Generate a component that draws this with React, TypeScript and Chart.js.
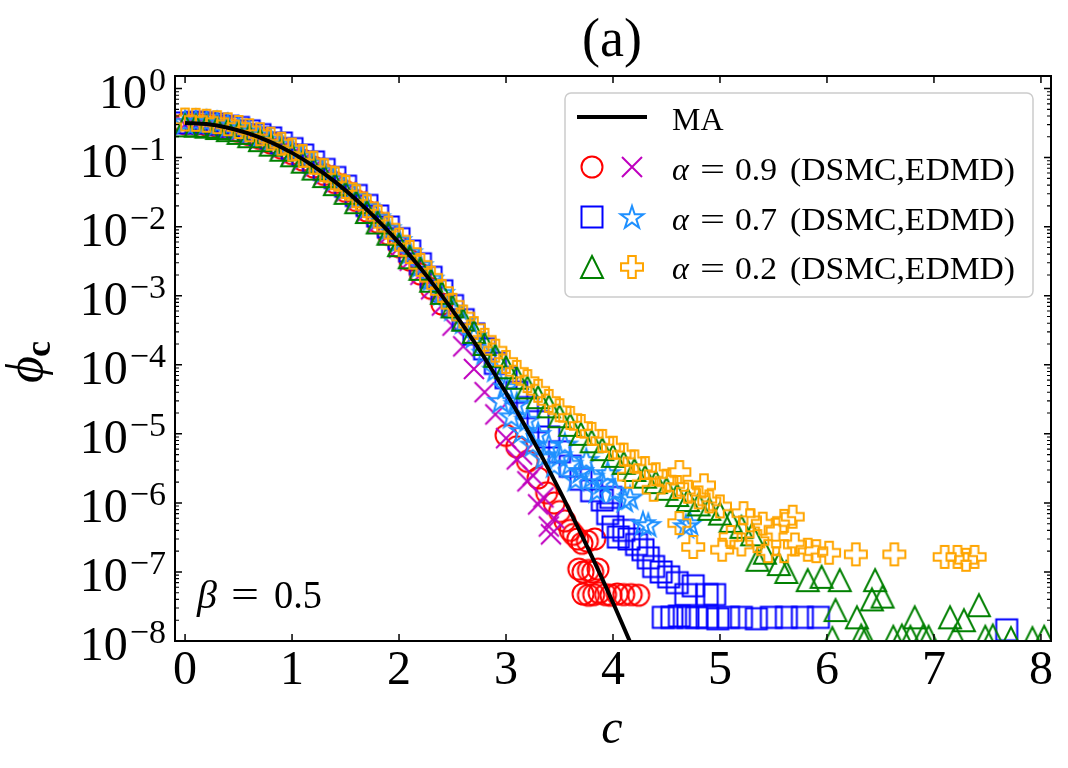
import { useEffect, useRef } from "react";
import { Chart, registerables } from "chart.js";
Chart.register(...registerables);

// ---------- data ----------
const maC = [0, 0.2, 0.4, 0.6, 0.8, 1.0, 1.2, 1.4, 1.6, 1.8, 2.0, 2.2, 2.4, 2.6, 2.8, 3.0, 3.2, 3.4, 3.6, 3.8, 4.0, 4.2];
const maPhi = [0.3183, 0.3058, 0.2712, 0.2221, 0.1678, 0.1171, 0.07542, 0.04484, 0.02461, 0.01247, 0.00583, 0.002517, 0.001003, 3.69e-4, 1.253e-4, 3.928e-5, 1.137e-5, 3.037e-6, 7.487e-7, 1.705e-7, 3.582e-8, 6.94e-9];

// alpha = 0.9 DSMC (red circles)
const redC = [0, 0.1, 0.2, 0.3, 0.4, 0.5, 0.6, 0.7, 0.8, 0.9, 1.0, 1.1, 1.2, 1.3, 1.4, 1.5, 1.6, 1.7, 1.8, 1.9, 2.0, 2.1, 2.2, 2.3, 2.4, 3.0, 3.1, 3.2, 3.3,
  3.38, 3.45, 3.5, 3.55, 3.6, 3.63, 3.67, 3.71, 3.76, 3.83,
  3.68, 3.72, 3.77, 3.81, 3.86,
  3.72, 3.77, 3.82, 3.87, 3.93, 3.98, 4.04, 4.1, 4.17, 4.24];
const redPhi = [0.309, 0.306, 0.297, 0.282, 0.263, 0.24, 0.215, 0.189, 0.163, 0.137, 0.114, 0.0921, 0.0732, 0.057, 0.0435, 0.0325, 0.0239, 0.0168, 0.0116, 0.00775, 0.00513, 0.00329, 0.00206, 0.00128, 7.6e-4, 9.5e-6, 6.5e-6, 4.0e-6, 2.3e-6,
  1.4e-6, 1.0e-6, 7.5e-7, 5.5e-7, 4.0e-7, 3.5e-7, 3.0e-7, 2.6e-7, 2.8e-7, 3.0e-7,
  1.1e-7, 1.0e-7, 1.05e-7, 1.0e-7, 1.1e-7,
  4.8e-8, 4.6e-8, 4.7e-8, 5.0e-8, 4.7e-8, 4.6e-8, 4.8e-8, 4.7e-8, 4.7e-8, 4.6e-8];

// alpha = 0.9 EDMD (magenta x)
const magC = [0, 0.1, 0.2, 0.3, 0.4, 0.5, 0.6, 0.7, 0.8, 0.9, 1.0, 1.1, 1.2, 1.3, 1.4, 1.5, 1.6, 1.7, 1.8, 1.9, 2.0, 2.1, 2.2, 2.3, 2.4, 2.5, 2.6, 2.7, 2.8, 2.9, 3.0, 3.1, 3.2, 3.3, 3.4,
  3.15, 3.25, 3.35, 3.42, 3.45];
const magPhi = [0.302, 0.299, 0.291, 0.276, 0.258, 0.236, 0.211, 0.185, 0.159, 0.135, 0.111, 0.0902, 0.0716, 0.0558, 0.0426, 0.0319, 0.0234, 0.01645, 0.01122, 0.00758, 0.00496, 0.00321, 0.00201, 0.00124, 7.22e-4, 3.69e-4, 1.85e-4, 8.69e-5, 4.01e-5, 1.91e-5, 8.64e-6, 4.26e-6, 2.05e-6, 9.5e-7, 4.56e-7,
  5.0e-6, 2.5e-6, 1.2e-6, 3.5e-7, 6.0e-7];

// alpha = 0.7 DSMC (blue squares)
const blueC = [0, 0.1, 0.2, 0.3, 0.4, 0.5, 0.6, 0.7, 0.8, 0.9, 1.0, 1.1, 1.2, 1.3, 1.4, 1.5, 1.6, 1.7, 1.8, 1.9, 2.0, 2.1, 2.2, 2.3, 2.4, 2.5, 2.6, 2.7, 2.8, 2.9, 3.0, 3.1, 3.2, 3.3, 3.4, 3.5, 3.6, 3.7, 3.8, 3.9,
  3.95, 3.98, 4.0, 4.05, 4.1, 4.15, 4.22, 4.28, 4.33, 4.38, 4.45, 4.52, 4.6, 4.68, 4.75, 4.88, 4.95,
  4.47, 4.55, 4.62, 4.7, 4.78, 4.88, 4.98, 5.08, 5.2, 5.34, 5.48, 5.62, 5.77, 5.92,
  7.68];
const bluePhi = [0.318, 0.325, 0.321, 0.305, 0.285, 0.273, 0.244, 0.215, 0.193, 0.163, 0.135, 0.109, 0.0867, 0.0675, 0.0516, 0.0386, 0.0283, 0.0203, 0.0143, 0.0099, 0.0067, 0.00445, 0.0029, 0.00185, 0.00118, 7.2e-4, 4.5e-4, 2.8e-4, 1.7e-4, 1.05e-4, 6.5e-5, 4.0e-5, 2.4e-5, 1.5e-5, 9.0e-6, 5.5e-6, 3.4e-6, 2.2e-6, 1.5e-6, 1.1e-6,
  7.0e-7, 1.2e-6, 4.5e-7, 3.2e-7, 4.0e-7, 3.0e-7, 2.5e-7, 2.1e-7, 1.6e-7, 1.2e-7, 1.0e-7, 8.5e-8, 7.0e-8, 4.7e-8, 6.3e-8, 4.7e-8, 4.7e-8,
  2.2e-8, 2.2e-8, 2.3e-8, 2.2e-8, 2.2e-8, 2.2e-8, 2.1e-8, 2.2e-8, 2.2e-8, 2.1e-8, 2.2e-8, 2.2e-8, 2.2e-8, 2.2e-8,
  1.45e-8];

// alpha = 0.7 EDMD (dodgerblue stars)
const starC = [0, 0.1, 0.2, 0.3, 0.4, 0.5, 0.6, 0.7, 0.8, 0.9, 1.0, 1.1, 1.2, 1.3, 1.4, 1.5, 1.6, 1.7, 1.8, 1.9, 2.0, 2.1, 2.2, 2.3, 2.4, 2.5, 2.6, 2.7, 2.8, 2.9, 3.0, 3.1, 3.2, 3.3, 3.4, 3.5, 3.6, 3.7, 3.8, 3.9,
  2.95, 3.05, 3.15, 3.25, 3.35,
  3.45, 3.55, 3.65, 3.75, 3.85, 3.95, 4.02, 4.11, 4.16, 4.28, 4.33, 4.68, 4.72];
const starPhi = [0.33, 0.334, 0.33, 0.314, 0.293, 0.27, 0.242, 0.212, 0.183, 0.155, 0.129, 0.104, 0.083, 0.0646, 0.0493, 0.0369, 0.0271, 0.0195, 0.0137, 0.0095, 0.0064, 0.00426, 0.00277, 0.00177, 0.0011, 6.5e-4, 4.2e-4, 2.6e-4, 1.5e-4, 8.5e-5, 4.8e-5, 2.7e-5, 1.6e-5, 1.0e-5, 6.8e-6, 4.9e-6, 3.7e-6, 2.9e-6, 2.4e-6, 2.0e-6,
  3.0e-5, 1.8e-5, 1.1e-5, 7.0e-6, 4.6e-6,
  3.5e-6, 7.0e-6, 2.2e-6, 4.2e-6, 1.5e-6, 2.7e-6, 1.5e-6, 1.1e-6, 1.2e-6, 5.1e-7, 4.8e-7, 4.6e-7, 5.1e-7];

// alpha = 0.2 DSMC (green triangles)
const greenC = [0, 0.1, 0.2, 0.3, 0.4, 0.5, 0.6, 0.7, 0.8, 0.9, 1.0, 1.1, 1.2, 1.3, 1.4, 1.5, 1.6, 1.7, 1.8, 1.9, 2.0, 2.1, 2.2, 2.3, 2.4, 2.5, 2.6, 2.7, 2.8, 2.9, 3.0, 3.1, 3.2, 3.3, 3.4, 3.5, 3.6, 3.7, 3.8, 3.9, 4.0, 4.1, 4.2, 4.3, 4.4, 4.5, 4.6, 4.7, 4.8, 4.9, 5.0,
  5.1, 5.2, 5.3, 5.35, 5.42, 5.55, 5.62, 5.82, 5.95, 6.08, 6.12, 6.28, 6.32, 6.42, 6.45, 6.52, 6.62, 6.7, 6.78, 6.82, 6.9, 6.95, 7.15, 7.2, 7.28, 7.42, 7.48, 7.55, 7.72, 7.92, 8.03, 6.05, 6.36];
const greenPhi = [0.293, 0.29, 0.281, 0.268, 0.25, 0.228, 0.204, 0.179, 0.154, 0.13, 0.108, 0.0873, 0.0694, 0.054, 0.0413, 0.0309, 0.0226, 0.0163, 0.0115, 0.0079, 0.0054, 0.0036, 0.00245, 0.00165, 0.0011, 7.0e-4, 4.5e-4, 3.0e-4, 2.0e-4, 1.35e-4, 9.2e-5, 6.5e-5, 4.7e-5, 3.4e-5, 2.5e-5, 1.8e-5, 1.35e-5, 1.0e-5, 7.8e-6, 6.0e-6, 4.8e-6, 3.8e-6, 3.0e-6, 2.4e-6, 2.0e-6, 1.6e-6, 1.3e-6, 1.1e-6, 9.5e-7, 8.2e-7, 7.0e-7,
  5.5e-7, 4.5e-7, 3.5e-7, 1.5e-7, 1.9e-7, 1.3e-7, 1.0e-7, 7.6e-8, 8.5e-8, 2.8e-8, 7.6e-8, 2.2e-8, 1.2e-8, 4.0e-8, 7.6e-8, 4.4e-8, 1.15e-8, 1.2e-8, 1.15e-8, 2.2e-8, 1.2e-8, 1.15e-8, 2.2e-8, 1.15e-8, 2.0e-8, 3.3e-8, 1.15e-8, 1.2e-8, 1.1e-8, 1.1e-8, 1.15e-8, 1.1e-8, 1.1e-8];

// alpha = 0.2 EDMD (orange plus)
const orangeC = [0, 0.1, 0.2, 0.3, 0.4, 0.5, 0.6, 0.7, 0.8, 0.9, 1.0, 1.1, 1.2, 1.3, 1.4, 1.5, 1.6, 1.7, 1.8, 1.9, 2.0, 2.1, 2.2, 2.3, 2.4, 2.5, 2.6, 2.7, 2.8, 2.9, 3.0, 3.1, 3.2, 3.3, 3.4, 3.5, 3.6, 3.7, 3.8, 3.9, 4.0, 4.1, 4.2, 4.3, 4.4, 4.5, 4.6, 4.7, 4.8, 4.9, 5.0,
  4.15, 4.38, 4.62, 4.85, 4.62, 4.75, 5.02, 5.1, 5.2, 5.22, 5.28, 5.35, 5.45, 5.52, 5.6, 5.68, 5.7, 5.82, 5.9, 6.02, 6.27, 6.63, 7.1, 7.22, 7.3, 7.38, 5.4, 5.6];
const orangePhi = [0.356, 0.353, 0.342, 0.326, 0.304, 0.278, 0.249, 0.218, 0.188, 0.159, 0.131, 0.106, 0.0845, 0.0658, 0.0502, 0.0376, 0.0276, 0.0198, 0.014, 0.0097, 0.0065, 0.0043, 0.0028, 0.00182, 0.00117, 7.4e-4, 5.0e-4, 3.4e-4, 2.3e-4, 1.6e-4, 1.1e-4, 7.9e-5, 5.8e-5, 4.2e-5, 3.0e-5, 2.2e-5, 1.7e-5, 1.3e-5, 1.0e-5, 7.9e-6, 6.3e-6, 5.0e-6, 4.0e-6, 3.2e-6, 2.6e-6, 2.1e-6, 1.7e-6, 1.45e-6, 1.2e-6, 1.05e-6, 8.9e-7,
  2.4e-6, 1.55e-6, 2.8e-6, 1.8e-6, 5.1e-7, 2.3e-7, 2.1e-7, 3.2e-7, 2.5e-7, 7.1e-7, 5.6e-7, 2.8e-7, 2.0e-7, 4.1e-7, 2.0e-7, 6.3e-7, 2.5e-7, 2.1e-7, 2.0e-7, 1.9e-7, 1.8e-7, 1.8e-7, 1.65e-7, 1.65e-7, 1.5e-7, 1.65e-7, 5.0e-7, 5.5e-7];

const xTickValues = [0, 1, 2, 3, 4, 5, 6, 7, 8];
const yTickExponents = [0, -1, -2, -3, -4, -5, -6, -7, -8];
const legendAlphas = ["0.9", "0.7", "0.2"];

// ---------- drawing helpers ----------
const SERIF = '"Liberation Serif", "DejaVu Serif", serif';

function pts(cs: number[], ps: number[]) {
  const n = Math.min(cs.length, ps.length);
  const out: { x: number; y: number }[] = [];
  for (let i = 0; i < n; i++) out.push({ x: cs[i], y: ps[i] });
  return out;
}

function makeMarker(kind: string, color: string): HTMLCanvasElement {
  const s = 30;
  const cv = document.createElement("canvas");
  cv.width = s;
  cv.height = s;
  const g = cv.getContext("2d")!;
  g.strokeStyle = color;
  g.lineWidth = 2;
  g.lineJoin = "miter";
  const m = s / 2;
  g.beginPath();
  if (kind === "circle") {
    g.arc(m, m, 10.5, 0, Math.PI * 2);
  } else if (kind === "x") {
    g.moveTo(m - 10, m - 10);
    g.lineTo(m + 10, m + 10);
    g.moveTo(m + 10, m - 10);
    g.lineTo(m - 10, m + 10);
  } else if (kind === "square") {
    g.rect(m - 10.5, m - 10.5, 21, 21);
  } else if (kind === "triangle") {
    g.moveTo(m, m - 11);
    g.lineTo(m + 11, m + 11);
    g.lineTo(m - 11, m + 11);
    g.closePath();
  } else if (kind === "star") {
    for (let i = 0; i < 10; i++) {
      const r = i % 2 === 0 ? 12 : 4.6;
      const a = -Math.PI / 2 + (i * Math.PI) / 5;
      const px = m + r * Math.cos(a);
      const py = m + 1 + r * Math.sin(a);
      if (i === 0) g.moveTo(px, py);
      else g.lineTo(px, py);
    }
    g.closePath();
  } else if (kind === "plus") {
    const a = 3.8;
    const e = 11;
    const p = [[-a, -e], [a, -e], [a, -a], [e, -a], [e, a], [a, a], [a, e], [-a, e], [-a, a], [-e, a], [-e, -a], [-a, -a]];
    p.forEach((q, i) => (i === 0 ? g.moveTo(m + q[0], m + q[1]) : g.lineTo(m + q[0], m + q[1])));
    g.closePath();
  }
  g.stroke();
  return cv;
}

function text(ctx: CanvasRenderingContext2D, t: string, font: string, x: number, y: number, align: "left" | "center" | "right" = "left", targetW?: number) {
  ctx.save();
  ctx.font = font;
  ctx.textAlign = "left";
  ctx.textBaseline = "alphabetic";
  const w = ctx.measureText(t).width;
  const sx = targetW ? targetW / w : 1;
  const W = w * sx;
  const x0 = align === "center" ? x - W / 2 : align === "right" ? x - W : x;
  ctx.translate(x0, y);
  ctx.scale(sx, 1);
  ctx.fillStyle = "#000";
  ctx.fillText(t, 0, 0);
  ctx.restore();
  return W;
}

export default function App() {
  const ref = useRef<HTMLCanvasElement | null>(null);

  useEffect(() => {
    const canvas = ref.current;
    if (!canvas) return;
    const mRed = makeMarker("circle", "#ff0000");
    const mMag = makeMarker("x", "#bf00bf");
    const mBlue = makeMarker("square", "#0000ff");
    const mStar = makeMarker("star", "#1e90ff");
    const mGreen = makeMarker("triangle", "#008000");
    const mOrange = makeMarker("plus", "#ffa500");

    const decor = {
      id: "decor",
      afterDraw(chart: any) {
        const ctx: CanvasRenderingContext2D = chart.ctx;
        const { left, right, top, bottom } = chart.chartArea;
        const xs = chart.scales.x;
        const ys = chart.scales.y;
        ctx.save();
        ctx.strokeStyle = "#000";
        ctx.lineWidth = 1.5;
        ctx.beginPath();
        xTickValues.forEach((v) => {
          const px = xs.getPixelForValue(v);
          ctx.moveTo(px, bottom);
          ctx.lineTo(px, bottom - 7);
          ctx.moveTo(px, top);
          ctx.lineTo(px, top + 7);
        });
        yTickExponents.forEach((e) => {
          const py = ys.getPixelForValue(Math.pow(10, e));
          ctx.moveTo(left, py);
          ctx.lineTo(left + 7, py);
          ctx.moveTo(right, py);
          ctx.lineTo(right - 7, py);
        });
        ctx.stroke();
        ctx.lineWidth = 1.1;
        ctx.beginPath();
        for (let d = -8; d <= 0; d++) {
          for (let k = 2; k <= 9; k++) {
            const v = k * Math.pow(10, d);
            if (v > ys.max) continue;
            const py = ys.getPixelForValue(v);
            ctx.moveTo(left, py);
            ctx.lineTo(left + 4, py);
            ctx.moveTo(right, py);
            ctx.lineTo(right - 4, py);
          }
        }
        ctx.stroke();
        ctx.lineWidth = 2;
        ctx.strokeRect(left, top, right - left, bottom - top);
        ctx.restore();

        xTickValues.forEach((v) => {
          text(ctx, String(v), `48px ${SERIF}`, xs.getPixelForValue(v), 684, "center");
        });
        yTickExponents.forEach((e) => {
          const py = ys.getPixelForValue(Math.pow(10, e));
          const sup = e === 0 ? "0" : "\u2212" + String(-e);
          const ws = text(ctx, sup, `34px ${SERIF}`, 166, py + 2, "right");
          text(ctx, "10", `48px ${SERIF}`, 166 - ws - 2, py + 19, "right");
        });

        text(ctx, "c", `italic 48px ${SERIF}`, 612, 743, "center");
        ctx.save();
        ctx.translate(42, 360);
        ctx.rotate(-Math.PI / 2);
        ctx.font = `italic 52px ${SERIF}`;
        const wphi = ctx.measureText("\u03D5").width;
        ctx.fillStyle = "#000";
        ctx.fillText("\u03D5", -23, 0);
        ctx.font = `bold 36px ${SERIF}`;
        ctx.fillText("c", -23 + wphi - 1, 8);
        ctx.restore();

        text(ctx, "(a)", `54px ${SERIF}`, 612, 56, "center");

        text(ctx, "\u03B2", `italic 40px ${SERIF}`, 197, 608);
        text(ctx, "=", `40px ${SERIF}`, 231, 608, "left", 28);
        text(ctx, "0.5", `40px ${SERIF}`, 274, 608, "left", 48);

        ctx.save();
        ctx.beginPath();
        (ctx as any).roundRect(565, 93, 468, 204, 6);
        ctx.fillStyle = "rgba(255,255,255,0.8)";
        ctx.fill();
        ctx.strokeStyle = "#cccccc";
        ctx.lineWidth = 1.5;
        ctx.stroke();
        ctx.beginPath();
        ctx.moveTo(577, 117);
        ctx.lineTo(647, 117);
        ctx.strokeStyle = "#000";
        ctx.lineWidth = 4;
        ctx.stroke();
        ctx.restore();
        text(ctx, "MA", `32px ${SERIF}`, 672, 130);
        const pairs = [[mRed, mMag], [mBlue, mStar], [mGreen, mOrange]];
        const rowY = [167, 217, 267];
        const baseY = [180, 230, 279];
        legendAlphas.forEach((a, i) => {
          ctx.drawImage(pairs[i][0], 592 - 15, rowY[i] - 15);
          ctx.drawImage(pairs[i][1], 632 - 15, rowY[i] - 15);
          text(ctx, "\u03B1", `italic 32px ${SERIF}`, 672, baseY[i]);
          text(ctx, "=", `32px ${SERIF}`, 700, baseY[i], "left", 25);
          text(ctx, a, `32px ${SERIF}`, 735, baseY[i], "left", 42);
          text(ctx, "(DSMC,EDMD)", `32px ${SERIF}`, 790, baseY[i], "left", 225);
        });
      },
    };

    const sc = (data: any, img: HTMLCanvasElement) => ({
      data,
      pointStyle: img,
      pointRadius: 11,
      showLine: false,
      borderColor: "rgba(0,0,0,0)",
      backgroundColor: "rgba(0,0,0,0)",
    });

    const chart = new Chart(canvas, {
      type: "scatter",
      data: {
        datasets: [
          {
            data: pts(maC, maPhi),
            showLine: true,
            borderColor: "#000",
            borderWidth: 4,
            pointRadius: 0,
            cubicInterpolationMode: "monotone",
            fill: false,
          } as any,
          sc(pts(orangeC, orangePhi), mOrange),
          sc(pts(greenC, greenPhi), mGreen),
          sc(pts(starC, starPhi), mStar),
          sc(pts(blueC, bluePhi), mBlue),
          sc(pts(magC, magPhi), mMag),
          sc(pts(redC, redPhi), mRed),
        ],
      },
      options: {
        animation: false,
        responsive: false,
        devicePixelRatio: 1,
        events: [],
        layout: { padding: { left: 175, right: 17, top: 76, bottom: 127 } },
        plugins: { legend: { display: false }, tooltip: { enabled: false }, title: { display: false } },
        scales: {
          x: { type: "linear", min: -0.094, max: 8.094, display: false },
          y: { type: "logarithmic", min: 1e-8, max: 1.52, display: false },
        },
      } as any,
      plugins: [decor],
    });
    return () => chart.destroy();
  }, []);

  return (
    <div style={{ position: "fixed", left: 0, top: 0, width: 1068, height: 768, background: "#fff" }}>
      <canvas ref={ref} width={1068} height={768} style={{ width: 1068, height: 768, display: "block" }} />
    </div>
  );
}
